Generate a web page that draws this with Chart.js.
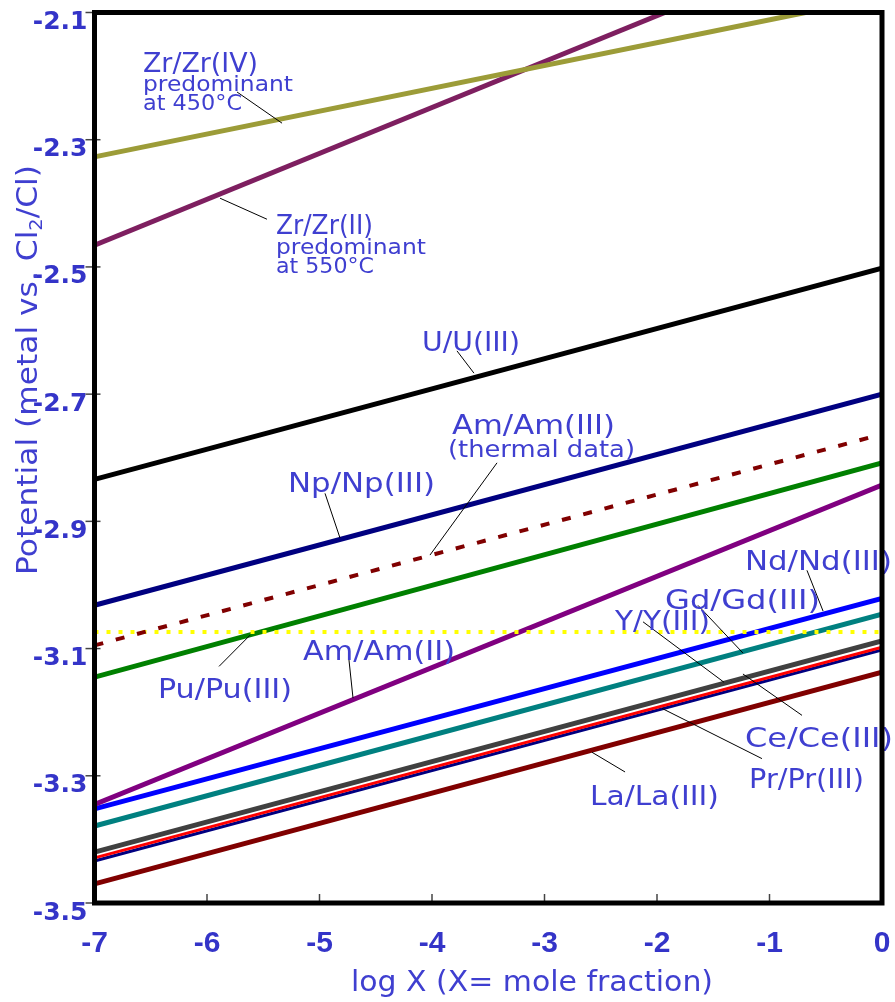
<!DOCTYPE html>
<html>
<head>
<meta charset="utf-8">
<script src="https://cdn.jsdelivr.net/npm/chart.js@4.4.1/dist/chart.umd.min.js"></script>
<style>
  html, body { margin: 0; padding: 0; background: #fff; }
  #wrap { width: 895px; height: 1002px; }
</style>
</head>
<body>
<div id="wrap"><canvas id="chart" width="895" height="1002"></canvas></div>
<script>
// log X end points of each line (the Zr lines run out through the top of the frame)
const xFull = [-7, 0];
const xZr4 = [-7, -0.68];
const xZr2 = [-7, -1.93];

// potentials (V) at those end points
const zrIV   = [-2.327, -2.100];
const zrII   = [-2.466, -2.100];
const uIII   = [-2.834, -2.502];
const npIII  = [-3.032, -2.700];
const amIIIt = [-3.095, -2.763];
const puIII  = [-3.145, -2.808];
const puFlat = [-3.074, -3.074];
const amII   = [-3.345, -2.843];
const ndIII  = [-3.352, -3.021];
const gdIII  = [-3.379, -3.046];
const yIII   = [-3.420, -3.088];
const ceIII  = [-3.429, -3.098];
const prIII  = [-3.434, -3.102];
const laIII  = [-3.470, -3.137];

// axis ranges and ticks
const xRange = [-7, 0];
const yRange = [-3.5, -2.1];
const yStep = 0.2;

// line styles, kept apart from the values
const styles = {
  zrIV:   { color: '#9c9c38', width: 5 },
  zrII:   { color: '#7e1f60', width: 5 },
  uIII:   { color: '#000000', width: 5 },
  npIII:  { color: '#000080', width: 5 },
  amIIIt: { color: '#800000', width: 4, dash: [9, 13] },
  puIII:  { color: '#008000', width: 5 },
  puFlat: { color: '#ffff00', width: 4, dash: [4, 8] },
  amII:   { color: '#800080', width: 5 },
  ndIII:  { color: '#0000ff', width: 5 },
  gdIII:  { color: '#008080', width: 5 },
  yIII:   { color: '#404040', width: 5 },
  ceIII:  { color: '#ff0000', width: 3 },
  prIII:  { color: '#000080', width: 3 },
  laIII:  { color: '#800000', width: 5 }
};

// first entry ends up on top
const lines = [
  ['zrIV', xZr4, zrIV], ['zrII', xZr2, zrII], ['uIII', xFull, uIII],
  ['npIII', xFull, npIII], ['amIIIt', xFull, amIIIt], ['puFlat', xFull, puFlat],
  ['puIII', xFull, puIII], ['amII', xFull, amII], ['ndIII', xFull, ndIII],
  ['gdIII', xFull, gdIII], ['yIII', xFull, yIII], ['ceIII', xFull, ceIII],
  ['prIII', xFull, prIII], ['laIII', xFull, laIII]
];

// text labels: left edge / baseline in axis units, font size, drawn width
const notes = [
  { text: 'Zr/Zr(IV)',      x: -6.569, y: -2.194, size: 27, w: 115 },
  { text: 'predominant',    x: -6.569, y: -2.223, size: 21, w: 150 },
  { text: 'at 450°C',       x: -6.569, y: -2.253, size: 21, w: 99 },
  { text: 'Zr/Zr(II)',      x: -5.387, y: -2.448, size: 27, w: 97 },
  { text: 'predominant',    x: -5.387, y: -2.480, size: 21, w: 150 },
  { text: 'at 550°C',       x: -5.387, y: -2.510, size: 21, w: 98 },
  { text: 'U/U(III)',       x: -4.089, y: -2.632, size: 27, w: 98 },
  { text: 'Np/Np(III)',     x: -5.280, y: -2.854, size: 27, w: 147 },
  { text: 'Am/Am(III)',     x: -3.822, y: -2.763, size: 27, w: 163 },
  { text: '(thermal data)', x: -3.858, y: -2.799, size: 23, w: 187 },
  { text: 'Pu/Pu(III)',     x: -6.436, y: -3.178, size: 27, w: 134 },
  { text: 'Am/Am(II)',      x: -5.147, y: -3.118, size: 27, w: 152 },
  { text: 'Nd/Nd(III)',     x: -1.218, y: -2.977, size: 27, w: 147 },
  { text: 'Gd/Gd(III)',     x: -1.929, y: -3.038, size: 27, w: 155 },
  { text: 'Y/Y(III)',       x: -2.373, y: -3.071, size: 27, w: 95 },
  { text: 'Ce/Ce(III)',     x: -1.218, y: -3.255, size: 27, w: 148 },
  { text: 'Pr/Pr(III)',     x: -1.182, y: -3.319, size: 27, w: 115 },
  { text: 'La/La(III)',     x: -2.596, y: -3.346, size: 27, w: 129 }
];

// leader lines from labels to their lines, axis units
const leaders = [
  [-5.733, -2.225, -5.333, -2.274],
  [-5.884, -2.392, -5.467, -2.425],
  [-3.778, -2.632, -3.627, -2.667],
  [-4.951, -2.856, -4.818, -2.926],
  [-3.422, -2.808, -4.018, -2.953],
  [-5.893, -3.128, -5.618, -3.079],
  [-4.738, -3.118, -4.702, -3.178],
  [-0.667, -2.977, -0.524, -3.041],
  [-1.636, -3.032, -1.236, -3.107],
  [-2.124, -3.058, -1.404, -3.153],
  [-1.236, -3.140, -0.711, -3.205],
  [-1.956, -3.194, -1.067, -3.273],
  [-2.578, -3.263, -2.284, -3.294]
];

const BLUE = '#3f3fd0';
const TICK_BLUE = '#3434c8';
const FONT = '"DejaVu Sans", "Liberation Sans", sans-serif';

// draw text squeezed/stretched to a given width
function fitText(ctx, text, x, y, w, size) {
  ctx.font = size + 'px ' + FONT;
  const m = ctx.measureText(text).width;
  ctx.save();
  ctx.translate(x, y);
  ctx.scale(w / m, 1);
  ctx.fillText(text, 0, 0);
  ctx.restore();
}

const decorations = {
  id: 'decorations',
  afterDatasetsDraw(chart) {
    const { ctx, chartArea: a, scales } = chart;
    const sx = scales.x, sy = scales.y;
    ctx.save();

    // leaders
    ctx.strokeStyle = '#000';
    ctx.lineWidth = 1;
    leaders.forEach(([x1, y1, x2, y2]) => {
      ctx.beginPath();
      ctx.moveTo(sx.getPixelForValue(x1), sy.getPixelForValue(y1));
      ctx.lineTo(sx.getPixelForValue(x2), sy.getPixelForValue(y2));
      ctx.stroke();
    });

    // labels
    ctx.fillStyle = BLUE;
    ctx.textBaseline = 'alphabetic';
    ctx.textAlign = 'left';
    notes.forEach(n => {
      fitText(ctx, n.text, sx.getPixelForValue(n.x), sy.getPixelForValue(n.y), n.w, n.size);
    });

    // tick marks: across the left edge, upward from the bottom edge
    ctx.strokeStyle = '#444';
    ctx.lineWidth = 1.5;
    sy.ticks.forEach(t => {
      const py = sy.getPixelForValue(t.value);
      ctx.beginPath();
      ctx.moveTo(a.left - 9, py);
      ctx.lineTo(a.left + 6, py);
      ctx.stroke();
    });
    sx.ticks.forEach(t => {
      const px = sx.getPixelForValue(t.value);
      ctx.beginPath();
      ctx.moveTo(px, a.bottom);
      ctx.lineTo(px, a.bottom - 9);
      ctx.stroke();
    });

    // frame
    ctx.strokeStyle = '#000';
    ctx.lineWidth = 5;
    ctx.strokeRect(a.left, a.top, a.right - a.left, a.bottom - a.top);

    // x title
    ctx.fillStyle = BLUE;
    fitText(ctx, 'log X (X= mole fraction)', 351, 991, 362, 28);

    // y title with subscript 2
    const parts = [
      { t: 'Potential (metal vs. Cl', size: 29, dy: 0 },
      { t: '2', size: 18, dy: 5 },
      { t: '/Cl)', size: 29, dy: 0 }
    ];
    let total = 0;
    parts.forEach(p => { ctx.font = p.size + 'px ' + FONT; p.m = ctx.measureText(p.t).width; total += p.m; });
    const k = 410 / total;
    ctx.save();
    ctx.translate(37, 575);
    ctx.rotate(-Math.PI / 2);
    let cx = 0;
    parts.forEach(p => {
      ctx.font = p.size + 'px ' + FONT;
      ctx.save();
      ctx.translate(cx, p.dy);
      ctx.scale(k, 1);
      ctx.fillText(p.t, 0, 0);
      ctx.restore();
      cx += p.m * k;
    });
    ctx.restore();

    ctx.restore();
  }
};

const datasets = lines.map(([key, xs, ys]) => {
  const s = styles[key];
  return {
    label: key,
    data: xs.map((x, i) => ({ x, y: ys[i] })),
    borderColor: s.color,
    borderWidth: s.width,
    borderDash: s.dash || [],
    pointRadius: 0,
    showLine: true,
    fill: false,
    tension: 0
  };
});

new Chart(document.getElementById('chart'), {
  type: 'scatter',
  data: { datasets },
  options: {
    responsive: false,
    animation: false,
    devicePixelRatio: 1,
    layout: { padding: { top: 12.5, right: 13, left: 0, bottom: 0 } },
    plugins: { legend: { display: false }, tooltip: { enabled: false } },
    scales: {
      x: {
        type: 'linear', min: xRange[0], max: xRange[1],
        grid: { display: false, drawTicks: false },
        border: { display: false },
        ticks: {
          stepSize: 1, padding: 23, color: TICK_BLUE,
          font: { family: '"Liberation Sans", Arial, sans-serif', size: 30, weight: 'bold' }
        },
        afterFit: s => { s.height = 99; s.paddingLeft = 0; s.paddingRight = 0; }
      },
      y: {
        type: 'linear', min: yRange[0], max: yRange[1],
        grid: { display: false, drawTicks: false },
        border: { display: false },
        ticks: {
          stepSize: yStep, padding: 7, labelOffset: 10, color: TICK_BLUE,
          font: { family: '"DejaVu Sans", sans-serif', size: 25, weight: 'bold' },
          callback: v => v.toFixed(1)
        },
        afterFit: s => { s.width = 94.5; s.paddingTop = 0; s.paddingBottom = 0; }
      }
    }
  },
  plugins: [decorations]
});
</script>
</body>
</html>
